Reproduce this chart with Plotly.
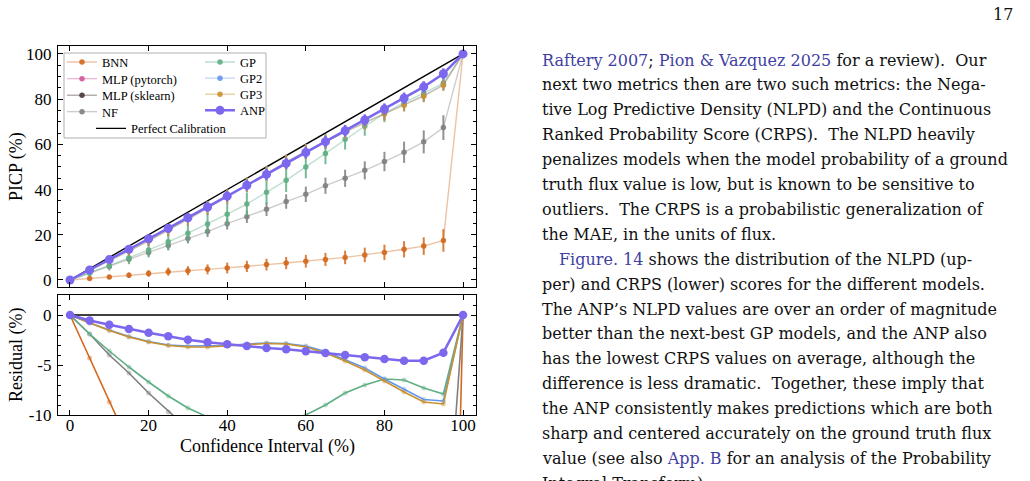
import numpy as np
import plotly.graph_objects as go

# ---------------- data ----------------
ci = [0, 5, 10, 15, 20, 25, 30, 35, 40, 45, 50, 55, 60, 65, 70, 75, 80, 85, 90, 95, 100]

bnn_picp = [0, 0.7, 1.3, 2.1, 2.9, 3.7, 4.1, 4.7, 5.3, 6.0, 6.8, 7.5, 8.3, 9.1, 10.0, 11.1, 12.2, 13.6, 15.0, 17.5, 100]
bnn_err = [0, 0.6, 0.9, 1.2, 1.5, 1.8, 2.0, 2.2, 2.4, 2.5, 2.6, 2.7, 2.8, 2.9, 3.0, 3.2, 3.4, 3.6, 3.9, 5.0, 0]

mlp_pytorch_picp = [None] * 21
mlp_pytorch_err = [None] * 21
mlp_sklearn_picp = [None] * 21
mlp_sklearn_err = [None] * 21

nf_picp = [0, 3.1, 6.0, 9.2, 12.2, 15.3, 18.4, 21.4, 24.9, 28.0, 31.3, 34.7, 37.9, 41.7, 45.0, 48.5, 52.4, 56.5, 61.1, 67.4, 100]
nf_err = [0, 0.8, 1.2, 1.5, 1.8, 2.0, 2.2, 2.4, 2.6, 2.8, 3.0, 3.2, 3.4, 3.6, 3.8, 4.0, 4.3, 4.7, 5.1, 5.5, 0]

gp_picp = [0, 3.1, 6.4, 9.8, 13.3, 16.9, 20.7, 24.8, 29.1, 33.6, 38.8, 44.1, 50.0, 56.0, 62.2, 68.0, 73.6, 78.5, 82.7, 87.1, 100]
gp_err = [0, 1.5, 2.2, 2.8, 3.3, 3.8, 4.2, 4.6, 4.9, 5.1, 5.2, 5.2, 5.0, 4.8, 4.5, 4.2, 3.8, 3.4, 3.0, 2.6, 0]

gp2_picp = [0, 4.2, 8.5, 12.85, 17.35, 22.0, 26.9, 31.9, 36.95, 42.1, 47.2, 52.15, 56.9, 61.35, 65.55, 69.7, 73.6, 77.55, 81.55, 86.4, 100]
gp2_err = [0, 1.2, 1.6, 2.0, 2.3, 2.6, 2.8, 3.0, 3.1, 3.2, 3.3, 3.3, 3.3, 3.2, 3.1, 3.0, 2.9, 2.8, 2.7, 2.5, 0]

gp3_picp = [0, 4.2, 8.45, 12.8, 17.3, 21.95, 26.8, 31.8, 36.9, 42.05, 47.15, 52.1, 56.8, 61.2, 65.4, 69.5, 73.4, 77.3, 81.3, 86.1, 100]
gp3_err = [0, 1.2, 1.6, 2.0, 2.3, 2.6, 2.8, 3.0, 3.1, 3.2, 3.3, 3.3, 3.3, 3.2, 3.1, 3.0, 2.9, 2.8, 2.7, 2.5, 0]

anp_picp = [0, 4.45, 9.03, 13.6, 18.23, 22.87, 27.53, 32.27, 37.07, 41.9, 46.7, 51.57, 56.37, 61.2, 66.0, 70.77, 75.6, 80.43, 85.43, 91.23, 100]
anp_err = [0, 1.0, 1.3, 1.5, 1.7, 1.9, 2.0, 2.1, 2.2, 2.3, 2.4, 2.4, 2.5, 2.5, 2.5, 2.5, 2.5, 2.5, 2.5, 2.4, 0]

perfect = [0, 100]
perfect_ci = [0, 100]

picp_ticks = [0, 20, 40, 60, 80, 100]
resid_ticks = [0, -5, -10]
resid_tick_labels = ["0", "-5", "-10"]
ci_ticks = [0, 20, 40, 60, 80, 100]

series = [
    ("BNN", bnn_picp, bnn_err, "#d2691e"),
    ("MLP (pytorch)", mlp_pytorch_picp, mlp_pytorch_err, "#d0579a"),
    ("MLP (sklearn)", mlp_sklearn_picp, mlp_sklearn_err, "#4a3838"),
    ("NF", nf_picp, nf_err, "#7f7f7f"),
    ("GP", gp_picp, gp_err, "#5fae84"),
    ("GP2", gp2_picp, gp2_err, "#6495ed"),
    ("GP3", gp3_picp, gp3_err, "#c8922e"),
]

# legend slot per entry: (legend id, left x px, centre y px)
legend_slots = {
    "BNN": ("legend", 62, 62.3),
    "MLP (pytorch)": ("legend2", 62, 79.0),
    "MLP (sklearn)": ("legend3", 62, 95.6),
    "NF": ("legend4", 62, 112.0),
    "Perfect Calibration": ("legend5", 91, 128.7),
    "GP": ("legend6", 200, 62.3),
    "GP2": ("legend7", 200, 78.5),
    "GP3": ("legend8", 200, 94.6),
    "ANP": ("legend9", 200, 110.7),
}


def rgba(h, a):
    h = h.lstrip("#")
    return "rgba(%d,%d,%d,%.2f)" % (int(h[0:2], 16), int(h[2:4], 16), int(h[4:6], 16), a)


def resid(v):
    return [None if y is None else y - x for x, y in zip(ci, v)]


SERIF = "Liberation Serif"
BODY = "DejaVu Serif"
W, H = 1030, 481

fig = go.Figure()

# perfect calibration
fig.add_trace(go.Scatter(x=perfect_ci, y=perfect, mode="lines", name="Perfect Calibration",
                         line=dict(color="black", width=1.4), legend=legend_slots["Perfect Calibration"][0],
                         xaxis="x", yaxis="y"))
fig.add_trace(go.Scatter(x=perfect_ci, y=[p - c for p, c in zip(perfect, perfect_ci)], mode="lines",
                         line=dict(color="black", width=1.6), showlegend=False, xaxis="x2", yaxis="y2"))

for name, vals, err, col in series:
    fig.add_trace(go.Scatter(
        x=ci, y=vals, mode="lines+markers", name=name, legend=legend_slots[name][0],
        line=dict(color=rgba(col, 0.4), width=1.4),
        marker=dict(color=rgba(col, 0.9), size=5.5),
        error_y=dict(type="data", array=err, visible=True, color=rgba(col, 0.85), thickness=2, width=0),
        xaxis="x", yaxis="y"))
    fig.add_trace(go.Scatter(
        x=ci, y=resid(vals), mode="lines+markers", showlegend=False,
        line=dict(color=col, width=1.6),
        marker=dict(color=rgba(col, 0.4), size=5),
        xaxis="x2", yaxis="y2"))

anp_col = "#7b68ee"
fig.add_trace(go.Scatter(
    x=ci, y=anp_picp, mode="lines+markers", name="ANP", legend=legend_slots["ANP"][0],
    line=dict(color=anp_col, width=2.5), marker=dict(color=anp_col, size=9),
    error_y=dict(type="data", array=anp_err, visible=True, color=anp_col, thickness=2.5, width=0),
    xaxis="x", yaxis="y"))
fig.add_trace(go.Scatter(
    x=ci, y=resid(anp_picp), mode="lines+markers", showlegend=False,
    line=dict(color=anp_col, width=2.5), marker=dict(color=anp_col, size=8.5),
    xaxis="x2", yaxis="y2"))

x0, x1 = 58 / W, 476 / W
axis_common = dict(showline=True, linecolor="black", linewidth=1.3, mirror="ticks", ticks="inside",
                   ticklen=4.5, tickwidth=1.1, tickcolor="black", showgrid=False, zeroline=False,
                   automargin=False,
                   tickfont=dict(family=SERIF, size=17, color="black"))

legends = {}
for key, (lid, lx, ly) in legend_slots.items():
    legends[lid] = dict(orientation="v", x=lx / W, y=1 - ly / H, xanchor="left", yanchor="middle",
                        font=dict(family=SERIF, size=12.5, color="black"),
                        bgcolor="rgba(0,0,0,0)", borderwidth=0)

fig.update_layout(
    width=W, height=H, margin=dict(l=0, r=0, t=0, b=0, autoexpand=False),
    paper_bgcolor="white", plot_bgcolor="white",
    font=dict(family=SERIF, color="black"),
    xaxis=dict(domain=[x0, x1], range=[-3.05, 103.3], tickvals=ci_ticks, showticklabels=False,
               anchor="y", **axis_common),
    yaxis=dict(domain=[1 - 287 / H, 1 - 46 / H], range=[-3.1, 103.5], tickvals=picp_ticks,
               minor=dict(ticks="inside", dtick=5, ticklen=2.5, tickcolor="black"),
               anchor="x", ticklabelstandoff=2, **axis_common),
    xaxis2=dict(domain=[x0, x1], range=[-3.05, 103.3], tickvals=ci_ticks, anchor="y2",
                ticklabelstandoff=-6, **axis_common),
    yaxis2=dict(domain=[1 - 415 / H, 1 - 295 / H], range=[-10, 2], tickvals=resid_ticks,
                ticktext=resid_tick_labels,
                minor=dict(ticks="inside", dtick=1, ticklen=2.5, tickcolor="black"),
                anchor="x2", ticklabelstandoff=2, **axis_common),
    showlegend=True,
    shapes=[dict(type="rect", xref="paper", yref="paper", x0=64 / W, x1=266 / W,
                 y0=1 - 138 / H, y1=1 - 53 / H, line=dict(color="#b0b0b0", width=1),
                 fillcolor="rgba(255,255,255,0.85)", layer="above")],
    **legends,
)

ann = []
ann.append(dict(text="PICP (%)", x=16 / W, y=1 - 167 / H, xref="paper", yref="paper", textangle=-90,
                showarrow=False, font=dict(family=SERIF, size=18, color="black"),
                xanchor="center", yanchor="middle"))
ann.append(dict(text="Residual (%)", x=16 / W, y=1 - 355 / H, xref="paper", yref="paper", textangle=-90,
                showarrow=False, font=dict(family=SERIF, size=18, color="black"),
                xanchor="center", yanchor="middle"))
ann.append(dict(text="Confidence Interval (%)", x=267 / W, y=1 - 446 / H, xref="paper", yref="paper",
                showarrow=False, font=dict(family=SERIF, size=18, color="black"),
                xanchor="center", yanchor="middle"))

# ---------------- page text ----------------
LINK = "#3f3fa3"


def link(s):
    return '<span style="color:%s">%s</span>' % (LINK, s)


body_lines = [
    link("Raftery 2007") + "; " + link("Pion &amp; Vazquez 2025") + " for a review).  Our",
    "next two metrics then are two such metrics: the Nega-",
    "tive Log Predictive Density (NLPD) and the Continuous",
    "Ranked Probability Score (CRPS).  The NLPD heavily",
    "penalizes models when the model probability of a ground",
    "truth flux value is low, but is known to be sensitive to",
    "outliers.  The CRPS is a probabilistic generalization of",
    "the MAE, in the units of flux.",
    link("Figure. 14") + " shows the distribution of the NLPD (up-",
    "per) and CRPS (lower) scores for the different models.",
    "The ANP\u2019s NLPD values are over an order of magnitude",
    "better than the next-best GP models, and the ANP also",
    "has the lowest CRPS values on average, although the",
    "difference is less dramatic.  Together, these imply that",
    "the ANP consistently makes predictions which are both",
    "sharp and centered accurately on the ground truth flux",
    "value (see also " + link("App. B") + " for an analysis of the Probability",
    "Integral Transform).",
]
for i, t in enumerate(body_lines):
    yc = 60 + 24.9 * i
    xl = 557 if i == 8 else 540
    ann.append(dict(text=t, x=xl / W, y=1 - yc / H, xref="paper", yref="paper", showarrow=False,
                    xanchor="left", yanchor="middle", font=dict(family=BODY, size=16, color="#111111")))

ann.append(dict(text="17", x=1015 / W, y=1 - 14 / H, xref="paper", yref="paper", showarrow=False,
                xanchor="right", yanchor="middle", font=dict(family=BODY, size=16, color="#111111")))

fig.update_layout(annotations=ann)
fig.write_html("out.html")
